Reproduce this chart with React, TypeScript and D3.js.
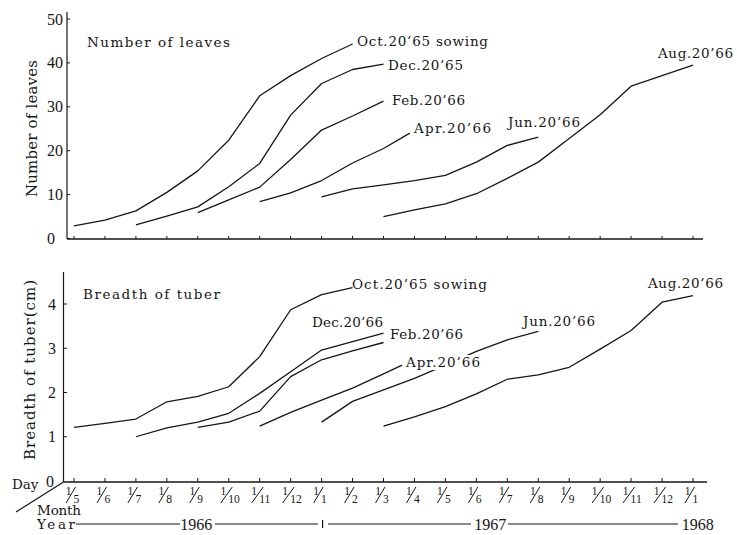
import React from "react";
import * as d3 from "d3";

// ---------- data ----------
const monthLabels = ["5","6","7","8","9","10","11","12","1","2","3","4","5","6","7","8","9","10","11","12","1"];
const yearLabels = ["1966", "1967", "1968"];
const leafTicks = [0, 10, 20, 30, 40, 50];
const tuberTicks = [0, 1, 2, 3, 4];

const leafSeriesNames = ["Oct.20’65 sowing", "Dec.20’65", "Feb.20’66", "Apr.20’66", "Jun.20’66", "Aug.20’66"];
const tuberSeriesNames = ["Oct.20’65 sowing", "Dec.20’66", "Feb.20’66", "Apr.20’66", "Jun.20’66", "Aug.20’66"];

// month index: 0 = 1 May 1966 ... 20 = 1 Jan 1968
const leafOctMonths = [0, 1, 2, 3, 4, 5, 6, 7, 8, 9];
const leafOct = [2.9, 4.2, 6.3, 10.5, 15.4, 22.4, 32.5, 37.1, 41.0, 44.3];
const leafDecMonths = [2, 3, 4, 5, 6, 7, 8, 9, 10];
const leafDec = [3.1, 5.1, 7.2, 11.8, 17.1, 28.1, 35.3, 38.5, 39.7];
const leafFebMonths = [4, 5, 6, 7, 8, 9, 10];
const leafFeb = [5.9, 8.8, 11.7, 18.0, 24.7, 27.9, 31.3];
const leafAprMonths = [6, 7, 8, 9, 10, 10.85];
const leafApr = [8.4, 10.4, 13.2, 17.2, 20.5, 24.0];
const leafJunMonths = [8, 9, 10, 11, 12, 13, 14, 15];
const leafJun = [9.5, 11.3, 12.2, 13.2, 14.4, 17.4, 21.2, 23.1];
const leafAugMonths = [10, 11, 12, 13, 14, 15, 16, 17, 18, 19, 20];
const leafAug = [5.0, 6.5, 7.9, 10.2, 13.7, 17.4, 22.8, 28.2, 34.7, 37.1, 39.5];

const tuberOctMonths = [0, 1, 2, 3, 4, 5, 6, 7, 8, 9];
const tuberOct = [1.21, 1.30, 1.40, 1.79, 1.91, 2.13, 2.81, 3.87, 4.21, 4.37];
const tuberDecMonths = [2, 3, 4, 5, 6, 7, 8, 9, 10];
const tuberDec = [1.00, 1.20, 1.33, 1.53, 1.98, 2.47, 2.96, 3.15, 3.34];
const tuberFebMonths = [4, 5, 6, 7, 8, 9, 10];
const tuberFeb = [1.21, 1.33, 1.58, 2.36, 2.74, 2.94, 3.13];
const tuberAprMonths = [6, 7, 8, 9, 10, 10.6];
const tuberApr = [1.24, 1.55, 1.83, 2.10, 2.42, 2.62];
const tuberJunMonths = [8, 9, 10, 11, 12, 13, 14, 15];
const tuberJun = [1.33, 1.80, 2.06, 2.32, 2.62, 2.93, 3.19, 3.38];
const tuberAugMonths = [10, 11, 12, 13, 14, 15, 16, 17, 18, 19, 20];
const tuberAug = [1.24, 1.45, 1.68, 1.97, 2.30, 2.40, 2.57, 2.98, 3.40, 4.04, 4.19];

// ---------- layout ----------
const W = 737, H = 535;
const SERIF = "DejaVu Serif";
const NUMF = "Liberation Serif";
const INK = "#161616";

const x = d3.scaleLinear().domain([0, 20]).range([74, 693]);
const yTop = d3.scaleLinear().domain([0, 50]).range([238.5, 19]);
const yBot = d3.scaleLinear().domain([0, 4]).range([481, 304]);

type Series = { name: string; months: number[]; values: number[] };
const zip = (names: string[], ms: number[][], vs: number[][]): Series[] =>
  names.map((name, i) => ({ name, months: ms[i], values: vs[i] }));

const leafSeries = zip(
  leafSeriesNames,
  [leafOctMonths, leafDecMonths, leafFebMonths, leafAprMonths, leafJunMonths, leafAugMonths],
  [leafOct, leafDec, leafFeb, leafApr, leafJun, leafAug]
);
const tuberSeries = zip(
  tuberSeriesNames,
  [tuberOctMonths, tuberDecMonths, tuberFebMonths, tuberAprMonths, tuberJunMonths, tuberAugMonths],
  [tuberOct, tuberDec, tuberFeb, tuberApr, tuberJun, tuberAug]
);

// label placement [x, baseline, width, maskBehind]
const leafLabelPos: [number, number, number, boolean][] = [
  [357, 46, 131, false], [388, 70, 75, false], [392, 105, 73, false],
  [414, 133, 77, false], [508, 127, 72, false], [658, 58, 75, false],
];
const tuberLabelPos: [number, number, number, boolean][] = [
  [352, 289, 135, false], [312, 327, 71, false], [390, 339, 73, false],
  [406, 367, 74, true], [523, 326, 72, false], [648, 288, 75, false],
];

const txt = (family: string, size: number) => ({ fontFamily: family, fontSize: size + "px" });

function Panel({ series, y, labels }: { series: Series[]; y: d3.ScaleLinear<number, number>; labels: [number, number, number, boolean][] }) {
  const line = d3.line<[number, number]>().x((d) => x(d[0])).y((d) => y(d[1]));
  return (
    <g>
      {series.map((s, i) => (
        <path
          key={"p" + i}
          d={line(s.months.map((m, j) => [m, s.values[j]] as [number, number])) || ""}
          fill="none"
          stroke={INK}
          strokeWidth={1.3}
          strokeLinejoin="round"
        />
      ))}
      {series.map((s, i) => {
        const [lx, ly, lw, mask] = labels[i];
        return (
          <g key={"l" + i}>
            {mask && <rect x={lx - 1} y={ly - 12} width={lw + 2} height={15} fill="white" />}
            <text x={lx} y={ly} style={txt(SERIF, 13.5)} fill={INK} textLength={lw} lengthAdjust="spacing">
              {s.name}
            </text>
          </g>
        );
      })}
    </g>
  );
}

function MonthFraction({ m, i }: { m: string; i: number }) {
  const cx = x(i);
  const wide = m.length > 1;
  return (
    <g fill={INK} style={txt(NUMF, 11.5)}>
      <text x={cx - 5.5} y={494.5} textAnchor="middle">1</text>
      <line x1={cx - 8} y1={503} x2={cx + (wide ? 3.5 : 1.5)} y2={487} stroke={INK} strokeWidth={1} />
      <text x={cx - 0.5} y={503}>{m}</text>
    </g>
  );
}

export default function App() {
  const months = d3.range(monthLabels.length);
  return (
    <svg
      width={W}
      height={H}
      viewBox={`0 0 ${W} ${H}`}
      style={{ position: "absolute", left: 0, top: 0, background: "white" }}
    >
      <rect x={0} y={0} width={W} height={H} fill="white" />

      {/* ---------- top panel: number of leaves ---------- */}
      <line x1={67} y1={12} x2={67} y2={239} stroke={INK} strokeWidth={1.2} />
      <line x1={67} y1={239} x2={703} y2={239} stroke={INK} strokeWidth={1.3} />
      {months.map((i) => (
        <line key={"tt" + i} x1={x(i)} x2={x(i)} y1={239} y2={236} stroke={INK} strokeWidth={1} />
      ))}
      {leafTicks.map((t) => (
        <g key={"ly" + t}>
          <line x1={67} x2={70} y1={yTop(t)} y2={yTop(t)} stroke={INK} strokeWidth={1} />
          <text x={47} y={yTop(t) + 5.5} style={txt(NUMF, 16)} fill={INK}>{t}</text>
        </g>
      ))}
      <text
        transform="translate(37,128.5) rotate(-90)"
        textAnchor="middle"
        style={txt(SERIF, 15)}
        fill={INK}
        textLength={137}
        lengthAdjust="spacing"
      >
        Number of leaves
      </text>
      <text x={87} y={47} style={txt(SERIF, 13.5)} fill={INK} textLength={143} lengthAdjust="spacing">
        Number of  leaves
      </text>
      <Panel series={leafSeries} y={yTop} labels={leafLabelPos} />

      {/* ---------- bottom panel: breadth of tuber ---------- */}
      <line x1={63.5} y1={272} x2={63.5} y2={482} stroke={INK} strokeWidth={1.2} />
      <line x1={63.5} y1={482} x2={707} y2={482} stroke={INK} strokeWidth={1.3} />
      <line x1={63.5} y1={482} x2={16} y2={512} stroke={INK} strokeWidth={1.2} />
      {months.map((i) => (
        <line key={"bt" + i} x1={x(i)} x2={x(i)} y1={482} y2={478} stroke={INK} strokeWidth={1} />
      ))}
      {tuberTicks.map((t) => (
        <g key={"by" + t}>
          {t > 0 && <line x1={63.5} x2={67} y1={yBot(t)} y2={yBot(t)} stroke={INK} strokeWidth={1} />}
          <text x={t === 0 ? 46 : 48} y={yBot(t) + 5.5} style={txt(NUMF, 16)} fill={INK}>{t}</text>
        </g>
      ))}
      <text
        transform="translate(35,370) rotate(-90)"
        textAnchor="middle"
        style={txt(SERIF, 15)}
        fill={INK}
        textLength={180}
        lengthAdjust="spacing"
      >
        Breadth of tuber(cm)
      </text>
      <text x={83} y={299} style={txt(SERIF, 13.5)} fill={INK} textLength={137} lengthAdjust="spacing">
        Breadth of  tuber
      </text>
      <Panel series={tuberSeries} y={yBot} labels={tuberLabelPos} />

      {/* ---------- time axis labels ---------- */}
      <text x={12} y={489} style={txt(SERIF, 13.5)} fill={INK}>Day</text>
      {monthLabels.map((m, i) => (
        <MonthFraction key={"mf" + i} m={m} i={i} />
      ))}
      <text x={37} y={514.5} style={txt(SERIF, 13.5)} fill={INK} textLength={44} lengthAdjust="spacing">Month</text>
      <text x={37} y={529} style={txt(SERIF, 13.5)} fill={INK} textLength={38} lengthAdjust="spacing">Year</text>

      <line x1={76} x2={180} y1={524} y2={524} stroke={INK} strokeWidth={1} />
      <line x1={215} x2={318} y1={524} y2={524} stroke={INK} strokeWidth={1} />
      <line x1={x(8) + 1} x2={x(8) + 1} y1={520} y2={528} stroke={INK} strokeWidth={1.2} />
      <line x1={328} x2={471} y1={524} y2={524} stroke={INK} strokeWidth={1} />
      <line x1={508} x2={678} y1={524} y2={524} stroke={INK} strokeWidth={1} />
      <text x={x(3.95)} y={529.5} textAnchor="middle" style={txt(NUMF, 16)} fill={INK}>{yearLabels[0]}</text>
      <text x={x(13.45)} y={529.5} textAnchor="middle" style={txt(NUMF, 16)} fill={INK}>{yearLabels[1]}</text>
      <text x={x(20.15)} y={529.5} textAnchor="middle" style={txt(NUMF, 16)} fill={INK}>{yearLabels[2]}</text>
    </svg>
  );
}
